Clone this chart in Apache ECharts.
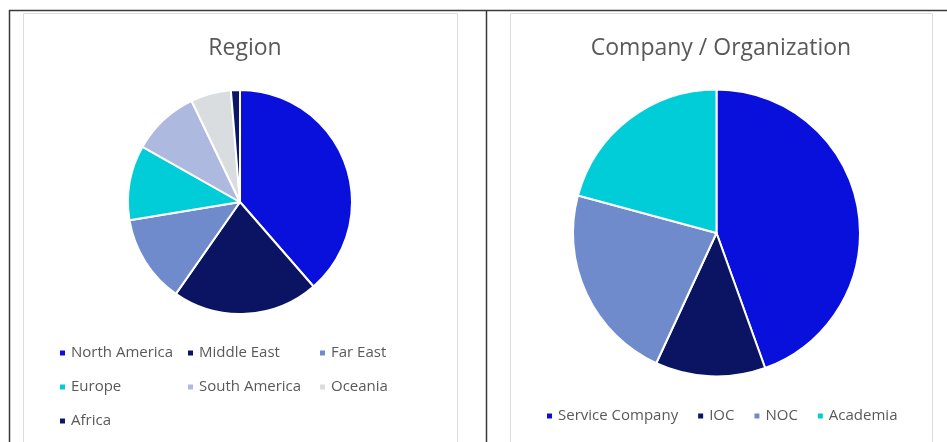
<!DOCTYPE html>
<html>
<head>
<meta charset="utf-8">
<script src="https://cdn.jsdelivr.net/npm/echarts@6/dist/echarts.min.js"></script>
<style>
  html, body { margin: 0; padding: 0; background: #ffffff; }
  #chart { width: 947px; height: 442px; }
</style>
</head>
<body>
<div id="chart"></div>
<script>
// Respondents by region (share, %)
const regionNames = ['North America', 'Middle East', 'Far East', 'Europe', 'South America', 'Oceania', 'Africa'];
const regionValues = [38.6, 21.1, 12.7, 10.8, 9.7, 5.8, 1.3];
const regionColors = ['#0a10dc', '#0b1462', '#6f8bcb', '#00cdd8', '#aeb9df', '#d9dde0', '#0b1668'];

// Respondents by company / organization type (share, %)
const orgNames = ['Service Company', 'IOC', 'NOC', 'Academia'];
const orgValues = [44.5, 12.4, 22.3, 20.8];
const orgColors = ['#0a10dc', '#0b1462', '#6f8bcb', '#00cdd8'];

const FONT = '"Open Sans", "Noto Sans", sans-serif';
const TEXT_GREY = '#595959';

const toData = (names, values, colors) =>
  names.map((n, i) => ({ name: n, value: values[i], itemStyle: { color: colors[i] } }));

const legendBase = {
  icon: 'rect',
  itemWidth: 7,
  itemHeight: 7,
  selectedMode: false,
  textStyle: { color: TEXT_GREY, fontSize: 15, fontFamily: FONT, lineHeight: 20 }
};

// Left legend is a 3-column grid: one vertical legend per column
const leftColumns = [
  { left: 53, items: ['North America', 'Europe', 'Africa'] },
  { left: 181, items: ['Middle East', 'South America'] },
  { left: 313, items: ['Far East', 'Oceania'] }
];

const chart = echarts.init(document.getElementById('chart'));

chart.setOption({
  animation: false,
  title: [
    {
      text: 'Region', left: 240, top: 32, textAlign: 'center',
      textStyle: { color: TEXT_GREY, fontSize: 23, fontWeight: 'normal', fontFamily: FONT }
    },
    {
      text: 'Company / Organization', left: 716, top: 32, textAlign: 'center',
      textStyle: { color: TEXT_GREY, fontSize: 23, fontWeight: 'normal', fontFamily: FONT }
    }
  ],
  legend: leftColumns.map(c => Object.assign({}, legendBase, {
    orient: 'vertical', left: c.left, top: 338, itemGap: 14, data: c.items
  })).concat([
    Object.assign({}, legendBase, {
      orient: 'horizontal', left: 540, top: 401, itemGap: 18, data: orgNames
    })
  ]),
  graphic: [
    // outer frame and divider
    { type: 'line', shape: { x1: 9, y1: 10.5, x2: 947, y2: 10.5 }, style: { stroke: '#3a3a3a', lineWidth: 1.5 } },
    { type: 'line', shape: { x1: 9.5, y1: 10, x2: 9.5, y2: 442 }, style: { stroke: '#3a3a3a', lineWidth: 1.5 } },
    { type: 'line', shape: { x1: 486.5, y1: 10, x2: 486.5, y2: 442 }, style: { stroke: '#3a3a3a', lineWidth: 1.5 } },
    // chart area boxes
    { type: 'rect', shape: { x: 23.5, y: 13.5, width: 434, height: 440 }, style: { fill: 'none', stroke: '#dcdcdc', lineWidth: 1 } },
    { type: 'rect', shape: { x: 510.5, y: 13.5, width: 422, height: 440 }, style: { fill: 'none', stroke: '#dcdcdc', lineWidth: 1 } }
  ],
  series: [
    {
      type: 'pie',
      center: [240, 202],
      radius: 112,
      startAngle: 90,
      clockwise: true,
      label: { show: false },
      labelLine: { show: false },
      emphasis: { disabled: true },
      itemStyle: { borderColor: '#ffffff', borderWidth: 2 },
      data: toData(regionNames, regionValues, regionColors)
    },
    {
      type: 'pie',
      center: [716.5, 233],
      radius: 143.5,
      startAngle: 90,
      clockwise: true,
      label: { show: false },
      labelLine: { show: false },
      emphasis: { disabled: true },
      itemStyle: { borderColor: '#ffffff', borderWidth: 2 },
      data: toData(orgNames, orgValues, orgColors)
    }
  ]
});
</script>
</body>
</html>
